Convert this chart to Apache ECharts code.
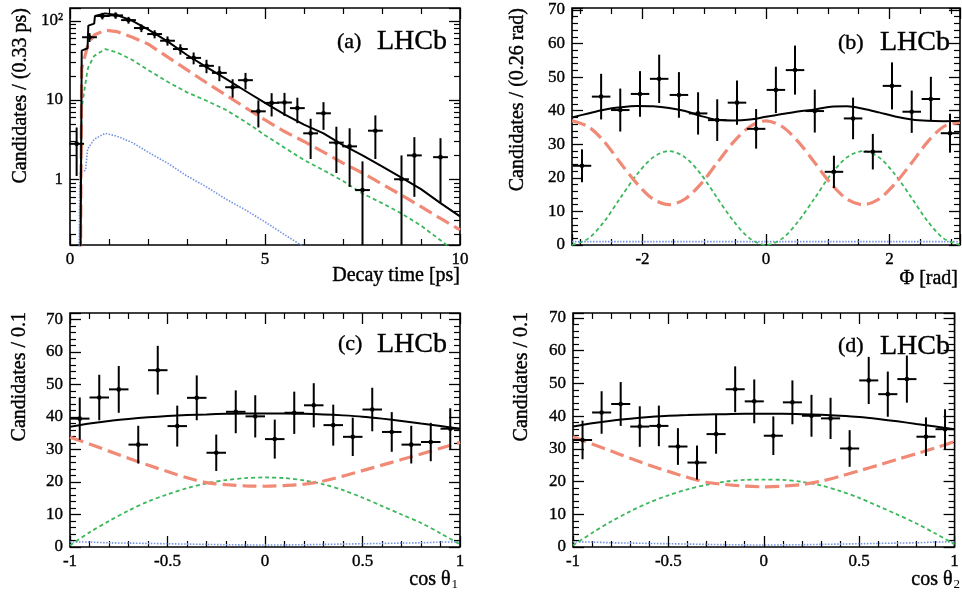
<!DOCTYPE html>
<html>
<head>
<meta charset="utf-8">
<title>Decay time and angular projections</title>
<script src="https://cdn.jsdelivr.net/npm/echarts@6/dist/echarts.min.js"></script>
<style>
  html, body { margin: 0; padding: 0; background: #fff; }
  #main { width: 962px; height: 592px; }
</style>
</head>
<body>
<div id="main"></div>
<script>
// ---- (a) decay time, log scale ----
var tBins   = [0.17, 0.5, 0.83, 1.17, 1.5, 1.83, 2.17, 2.5, 2.83, 3.17, 3.5, 3.83, 4.17, 4.5, 4.83, 5.17, 5.5, 5.83, 6.17, 6.5, 6.83, 7.17, 7.5, 7.83, 8.5, 8.83, 9.5];
var tCounts = [2.8, 62, 115, 117, 102, 81, 68, 56, 44, 34, 27, 22, 14.5, 17.8, 7.2, 9.2, 9.3, 7.9, 3.8, 6.8, 2.9, 2.6, 0.73, 4.1, 1.0, 2.0, 1.9];
var tErrors = [1.7, 8, 11, 11, 10, 9, 8, 7.5, 6.6, 5.8, 5.2, 4.7, 3.8, 4.2, 2.7, 3.0, 3.0, 2.8, 2.0, 2.6, 1.7, 1.8, 0.95, 2.3, 1.0, 1.4, 1.4];
var tCurve  = [0.27, 0.3, 0.45, 0.47, 0.62, 0.64, 0.9, 1.2, 1.6, 2.0, 2.5, 3.0, 3.5, 4.0, 4.5, 5.0, 5.5, 6.0, 6.5, 7.0, 7.5, 8.0, 8.5, 9.0, 9.5, 10];
var tTotal  = [0.1, 42, 45, 87, 92, 115, 124, 118, 100, 78, 55, 37, 26, 18.5, 13, 9.2, 6.6, 4.9, 3.8, 2.7, 2.0, 1.45, 1.05, 0.75, 0.5, 0.34];
var tSwave  = [0.1, 25, 48, 52, 66, 68, 76, 73, 62, 51, 35, 24, 16.5, 11.5, 8, 5.6, 4.0, 3.0, 2.2, 1.6, 1.2, 0.87, 0.63, 0.45, 0.32, 0.23];
var tPwave  = [0.1, 8, 24, 26, 36, 37, 44, 40, 32, 24, 17, 12.5, 9.8, 7.5, 5.3, 3.6, 2.5, 1.75, 1.3, 0.95, 0.66, 0.5, 0.37, 0.26, 0.17, 0.11];
var tBkgX   = [0.23, 0.25, 0.4, 0.45, 0.62, 0.9, 1.2, 1.6, 2.0, 2.5, 3.0, 3.5, 4.0, 4.5, 5.0, 5.5, 6.0];
var tBkg    = [0.05, 1.2, 1.3, 2.4, 3.2, 3.8, 3.5, 2.9, 2.2, 1.6, 1.1, 0.8, 0.56, 0.41, 0.29, 0.2, 0.14];

// ---- (b) Phi ----
var phiBins   = [-2.98, -2.67, -2.36, -2.04, -1.73, -1.41, -1.10, -0.79, -0.47, -0.16, 0.16, 0.47, 0.79, 1.10, 1.41, 1.73, 2.04, 2.36, 2.67, 2.98];
var phiCounts = [23.6, 44.2, 40.2, 45, 49.5, 44.7, 39.2, 37.2, 42.4, 34.6, 46.2, 52.1, 39.9, 21.8, 37.7, 27.8, 47.4, 39.7, 43.5, 33.3];
var phiErrors = [4.9, 6.8, 6.4, 6.8, 7.2, 6.8, 6.3, 6.2, 6.6, 5.9, 6.9, 7.3, 6.4, 4.8, 6.2, 5.3, 7.0, 6.3, 6.6, 5.8];
var phiCurve  = [-3.14, -2.88, -2.62, -2.36, -2.09, -1.83, -1.57, -1.31, -1.05, -0.79, -0.52, -0.26, 0, 0.26, 0.52, 0.79, 1.05, 1.31, 1.57, 1.83, 2.09, 2.36, 2.62, 2.88, 3.14];
var phiTotal  = [38.0, 39.2, 40.3, 41.0, 41.4, 41.3, 40.8, 39.9, 38.4, 37.3, 37.1, 37.4, 38.2, 39.0, 39.8, 40.4, 41.2, 41.3, 40.6, 39.5, 38.3, 37.4, 37.0, 36.9, 37.0];
var phiSwave  = [37, 35.3, 30.8, 24.5, 18.3, 13.7, 12, 13.7, 18.3, 24.5, 30.8, 35.3, 37, 35.3, 30.8, 24.5, 18.3, 13.7, 12, 13.7, 18.3, 24.5, 30.8, 35.3, 36.5];
var phiPwave  = [0, 1.9, 7, 14, 21, 26.1, 28, 26.1, 21, 14, 7, 1.9, 0, 1.9, 7, 14, 21, 26.1, 28, 26.1, 21, 14, 7, 1.9, 0];
var phiBkg    = [1.0, 1.0, 1.0, 1.0, 1.0, 1.0, 1.0, 1.0, 1.0, 1.0, 1.0, 1.0, 1.0, 1.0, 1.0, 1.0, 1.0, 1.0, 1.0, 1.0, 1.0, 1.0, 1.0, 1.0, 1.0];

// ---- (c) cos theta1, (d) cos theta2 ----
var cosBins    = [-0.95, -0.85, -0.75, -0.65, -0.55, -0.45, -0.35, -0.25, -0.15, -0.05, 0.05, 0.15, 0.25, 0.35, 0.45, 0.55, 0.65, 0.75, 0.85, 0.95];
var cos1Counts = [39.5, 46, 48.5, 31.5, 54.4, 37.2, 45.9, 29, 41.6, 40.2, 33.2, 41.3, 43.6, 37.5, 33.9, 42.3, 35.4, 31.5, 32.3, 36.4];
var cos1Errors = [6.5, 7, 7.2, 5.8, 7.5, 6.3, 6.9, 5.6, 6.6, 6.5, 6, 6.5, 6.8, 6.3, 5.9, 6.7, 6.1, 5.8, 5.9, 6.3];
var cos2Counts = [32.7, 41.1, 43.7, 36.8, 37, 30.7, 25.8, 34.5, 48.2, 44.5, 34, 44.2, 40.1, 39.3, 30.1, 50.9, 46.7, 51.3, 33.7, 36];
var cos2Errors = [5.9, 6.5, 6.7, 6.2, 6.2, 5.6, 5.2, 6, 7, 6.7, 5.9, 6.7, 6.4, 6.3, 5.6, 7.2, 6.9, 7.2, 5.9, 6.1];
var cosCurve   = [-1, -0.9, -0.8, -0.7, -0.6, -0.5, -0.4, -0.3, -0.2, -0.1, 0, 0.1, 0.2, 0.3, 0.4, 0.5, 0.6, 0.7, 0.8, 0.9, 1];
var cos1Total  = [37, 38, 38.8, 39.4, 39.9, 40.3, 40.6, 40.8, 41, 41.1, 41.1, 41.1, 41, 40.8, 40.5, 40.1, 39.5, 38.8, 38, 37.2, 36.4];
var cos1Swave  = [33.8, 31.7, 29.5, 27.3, 25.2, 23.2, 21.3, 19.8, 19.2, 18.8, 18.7, 18.9, 19.3, 20.3, 21.8, 23.5, 25.2, 26.9, 28.6, 30.4, 32.2];
var cos1Pwave  = [0.5, 4.5, 8, 11.2, 14, 16.2, 18.1, 19.6, 20.6, 21.2, 21.4, 21.2, 20.5, 19.3, 17.5, 15.2, 12.6, 10, 7.4, 4.2, 0.8];
var cos2Total  = [36.8, 37.8, 38.6, 39.2, 39.7, 40.1, 40.3, 40.5, 40.6, 40.7, 40.7, 40.7, 40.6, 40.4, 40.1, 39.7, 39.1, 38.4, 37.6, 36.8, 36];
var cos2Swave  = [33.7, 31.5, 29.3, 27.1, 25, 23.1, 21.3, 19.8, 19.1, 18.6, 18.4, 18.6, 19.1, 20.1, 21.6, 23.3, 25, 26.8, 28.5, 30.3, 32.2];
var cos2Pwave  = [0.5, 4.3, 7.8, 10.9, 13.6, 15.8, 17.6, 19, 20, 20.5, 20.6, 20.5, 19.9, 18.8, 17.1, 15, 12.5, 9.9, 7.2, 4.1, 0.8];
var cosBkg     = [1.6, 1.5, 1.3, 1.2, 1.1, 1.0, 0.9, 0.8, 0.7, 0.65, 0.6, 0.65, 0.7, 0.8, 0.9, 1.0, 1.1, 1.2, 1.3, 1.5, 1.6];

// tick labels
var tLabels   = [0, 5, 10];
var logLabels = [1, 10, 100];
var phiLabels = [-2, 0, 2];
var cosLabels = [-1, -0.5, 0, 0.5, 1];
var cntLabels = [0, 10, 20, 30, 40, 50, 60, 70];

var serif = '"Liberation Serif", "DejaVu Serif", serif';
var INK = '#000';
var RED = '#f08a76', GREEN = '#3cb85c', BLUE = '#7392e4';

var grids = [
  { left: 70,  top: 8,   width: 390, height: 237 },
  { left: 572, top: 8,   width: 388, height: 237 },
  { left: 70,  top: 313, width: 390, height: 234 },
  { left: 573, top: 313, width: 387, height: 234 }
].map(function (g) {
  g.show = true; g.borderColor = INK; g.borderWidth = 1.6;
  return g;
});

// per grid and dimension: one axis carrying the labels, two carrying the inside ticks (both sides)
function axisSet(dim, g, s) {
  var sides = dim === 'x' ? ['bottom', 'top'] : ['left', 'right'];
  var labelAxis = {
    type: s.type, gridIndex: g, position: sides[0], min: s.min, max: s.max,
    axisLine: { show: false, onZero: false },
    axisTick: { show: false },
    splitLine: { show: false },
    axisLabel: { customValues: s.labels, margin: dim === 'x' ? 6 : 7,
                 fontFamily: serif, fontSize: 17, color: INK,
                 textBorderColor: INK, textBorderWidth: 0.35 }
  };
  if (s.format) labelAxis.axisLabel.formatter = s.format;
  var list = [labelAxis];
  sides.forEach(function (side) {
    var t = {
      type: s.type, gridIndex: g, position: side, min: s.min, max: s.max,
      axisLine: { show: false, onZero: false },
      axisTick: { show: true, inside: true, length: 11, lineStyle: { color: INK, width: 1.3 } },
      minorTick: { show: true, splitNumber: s.minor, length: 6, lineStyle: { color: INK, width: 1.2 } },
      axisLabel: { show: false },
      splitLine: { show: false }
    };
    if (s.split) t.splitNumber = s.split;
    list.push(t);
  });
  return list;
}

var xAxes = [].concat(
  axisSet('x', 0, { type: 'value', min: 0, max: 10, labels: tLabels, split: 2, minor: 5 }),
  axisSet('x', 1, { type: 'value', min: -Math.PI, max: Math.PI, labels: phiLabels, split: 3, minor: 4 }),
  axisSet('x', 2, { type: 'value', min: -1, max: 1, labels: cosLabels, split: 4, minor: 5 }),
  axisSet('x', 3, { type: 'value', min: -1, max: 1, labels: cosLabels, split: 4, minor: 5 })
);
var yAxes = [].concat(
  axisSet('y', 0, { type: 'log', min: 0.148, max: 145, labels: logLabels, minor: 9,
                    format: function (v) { return v >= 100 ? '10²' : String(v); } }),
  axisSet('y', 1, { type: 'value', min: 0, max: 70.6, labels: cntLabels, split: 7, minor: 5 }),
  axisSet('y', 2, { type: 'value', min: 0, max: 72, labels: cntLabels, split: 7, minor: 5 }),
  axisSet('y', 3, { type: 'value', min: 0, max: 71.5, labels: cntLabels, split: 7, minor: 5 })
);

function pairs(xs, ys) { return xs.map(function (x, i) { return [x, ys[i]]; }); }

function curve(g, xs, ys, color, width, dash) {
  return {
    type: 'line', xAxisIndex: g * 3, yAxisIndex: g * 3,
    data: pairs(xs, ys), symbol: 'none', smooth: g === 0 ? false : 0.3,
    lineStyle: { color: color, width: width, type: dash, cap: 'butt' },
    silent: true, clip: true, z: 3
  };
}

function points(g, xs, ys, es, halfW, floor) {
  return {
    type: 'custom', xAxisIndex: g * 3, yAxisIndex: g * 3,
    data: xs.map(function (x, i) { return [x, ys[i], es[i]]; }),
    z: 5, silent: true,
    renderItem: function (params, api) {
      var x = api.value(0), y = api.value(1), e = api.value(2);
      var c = api.coord([x, y]);
      var l = api.coord([x - halfW, y]), r = api.coord([x + halfW, y]);
      var hi = api.coord([x, y + e]), lo = api.coord([x, Math.max(y - e, floor)]);
      var st = { stroke: INK, lineWidth: 2 };
      return {
        type: 'group',
        children: [
          { type: 'line', shape: { x1: l[0], y1: c[1], x2: r[0], y2: c[1] }, style: st },
          { type: 'line', shape: { x1: c[0], y1: hi[1], x2: c[0], y2: lo[1] }, style: st },
          { type: 'circle', shape: { cx: c[0], cy: c[1], r: 2.3 }, style: { fill: INK } }
        ]
      };
    }
  };
}

function panelCurves(g, xs, total, swave, pwave, bkg, bx) {
  return [
    curve(g, bx || xs, bkg, BLUE, 1.6, [1.5, 1.5]),
    curve(g, xs, pwave, GREEN, 1.8, [4, 3]),
    curve(g, xs, swave, RED, 3.2, [14, 6]),
    curve(g, xs, total, INK, 2, 'solid')
  ];
}

var series = [].concat(
  panelCurves(0, tCurve, tTotal, tSwave, tPwave, tBkg, tBkgX),
  [points(0, tBins, tCounts, tErrors, 0.19, 0.148)],
  panelCurves(1, phiCurve, phiTotal, phiSwave, phiPwave, phiBkg),
  [points(1, phiBins, phiCounts, phiErrors, 0.15, 0)],
  panelCurves(2, cosCurve, cos1Total, cos1Swave, cos1Pwave, cosBkg),
  [points(2, cosBins, cos1Counts, cos1Errors, 0.05, 0)],
  panelCurves(3, cosCurve, cos2Total, cos2Swave, cos2Pwave, cosBkg),
  [points(3, cosBins, cos2Counts, cos2Errors, 0.05, 0)]
);

function label(x, y, text, size, align) {
  return { type: 'text', x: x, y: y, z: 20, silent: true,
           style: { text: text, fontFamily: serif, fontSize: size, fill: INK, stroke: INK, lineWidth: 0.4,
                    align: align, verticalAlign: 'middle' } };
}
function yTitle(x, y, text) {
  return { type: 'text', x: x, y: y, rotation: Math.PI / 2, z: 20, silent: true,
           style: { text: text, fontFamily: serif, fontSize: 20, fill: INK, stroke: INK, lineWidth: 0.4,
                    align: 'right', verticalAlign: 'middle' } };
}
function cosTitle(x, y, idx) {
  return { type: 'text', x: x, y: y, z: 20, silent: true,
           style: { text: '{m|cos θ}{s|' + idx + '}', align: 'right', verticalAlign: 'middle',
                    rich: { m: { fontFamily: serif, fontSize: 20, fill: INK, stroke: INK, lineWidth: 0.4 },
                            s: { fontFamily: serif, fontSize: 13, fill: INK, padding: [10, 0, 0, 1] } } } };
}

var graphics = [
  label(337, 42, '(a)', 22, 'left'), label(377, 42, 'LHCb', 28, 'left'),
  label(838, 43, '(b)', 22, 'left'), label(880, 43, 'LHCb', 28, 'left'),
  label(338, 344, '(c)', 22, 'left'), label(377, 345, 'LHCb', 28, 'left'),
  label(838, 346, '(d)', 22, 'left'), label(880, 347, 'LHCb', 28, 'left'),
  label(460, 276, 'Decay time [ps]', 20, 'right'),
  label(958, 279, 'Φ [rad]', 20, 'right'),
  cosTitle(458, 580, 1), cosTitle(960, 580, 2),
  yTitle(21, 8, 'Candidates / (0.33 ps)'),
  yTitle(518, 8, 'Candidates / (0.26 rad)'),
  yTitle(20, 312, 'Candidates / 0.1'),
  yTitle(522, 312, 'Candidates / 0.1')
];

var chart = echarts.init(document.getElementById('main'));
chart.setOption({
  animation: false,
  backgroundColor: '#fff',
  grid: grids,
  xAxis: xAxes,
  yAxis: yAxes,
  series: series,
  graphic: graphics
});
</script>
</body>
</html>
